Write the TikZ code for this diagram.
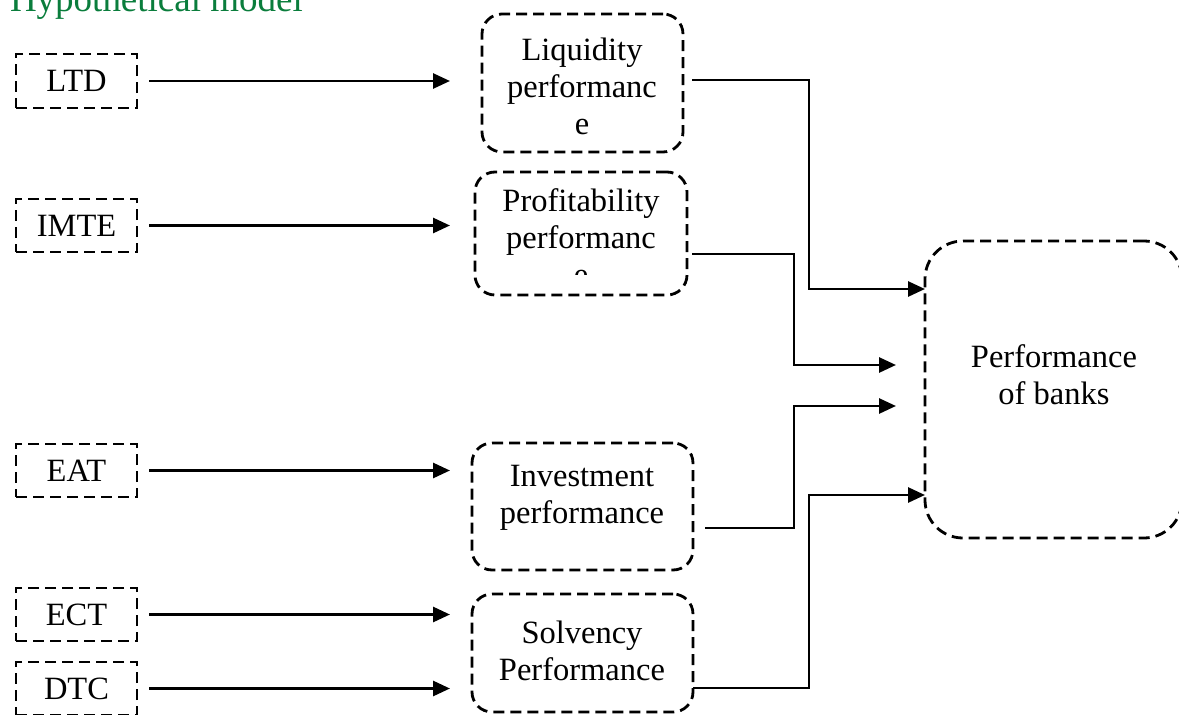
\documentclass[tikz,border=0pt]{standalone}
\usepackage{fontspec}
\setmainfont{Liberation Serif}
\usetikzlibrary{arrows.meta}
\definecolor{titlegreen}{RGB}{10,125,60}
\begin{document}
\begin{tikzpicture}[x=1pt,y=-1pt,
  every node/.style={font=\fontsize{32.5}{37}\selectfont, inner sep=0pt, outer sep=0pt},
  dsh/.style={draw, line width=2.8pt, dash pattern=on 11pt off 6pt},
  varbox/.style={dsh, minimum width=121pt, minimum height=53pt},
  midbox/.style={dsh, rounded corners=20pt},
  txt/.style={align=center},
  arr/.style={line width=2.8pt, -{Triangle[length=17pt,width=15pt]}}
]
\useasboundingbox (0,0) rectangle (1179,715);

% title
\node[anchor=base west, font=\fontsize{37}{40}\selectfont, text=titlegreen] (title) at (10,11) {Hypothetical model};

% left variable boxes
\node[varbox, minimum height=54pt] (ltd) at (76.5,81) {LTD};
\node[varbox] (imte) at (76.5,225.5) {IMTE};
\node[varbox] (eat) at (76.5,470.5) {EAT};
\node[varbox] (ect) at (76.5,614.5) {ECT};
\node[varbox] (dtc) at (76.5,688.5) {DTC};

% middle boxes
\node[midbox, minimum width=201pt, minimum height=138pt] (liq) at (582.5,83) {};
\node[midbox, minimum width=212pt, minimum height=123pt] (prof) at (581,233.5) {};
\node[midbox, minimum width=221pt, minimum height=127pt] (inv) at (582.5,506.5) {};
\node[midbox, minimum width=221pt, minimum height=118pt] (solv) at (582.5,653) {};
\node[dsh, rounded corners=38pt, minimum width=257pt, minimum height=297pt] (bank) at (1053.5,389.5) {};

% texts
\node[txt] (liqT) at (582,86) {Liquidity\\performanc\\e};
\begin{scope}
  \clip (470,170) rectangle (692,274);
  \node[txt] (profT) at (581,237) {Profitability\\performanc\\e};
\end{scope}
\node[txt] (invT) at (582,498) {Investment\\performance};
\node[txt] (solvT) at (582,651) {Solvency\\Performance};
\node[txt] (bankT) at (1054,374.5) {Performance\\of banks};

% left arrows
\draw[arr, shorten <=12pt, shorten >=32pt] (ltd.east) -- (ltd.east -| liq.west);
\draw[arr, shorten <=12pt, shorten >=25pt] (imte.east) -- (imte.east -| prof.west);
\draw[arr, shorten <=12pt, shorten >=22pt] (eat.east) -- (eat.east -| inv.west);
\draw[arr, shorten <=12pt, shorten >=22pt] (ect.east) -- (ect.east -| solv.west);
\draw[arr, shorten <=12pt, shorten >=22pt] (dtc.east) -- (dtc.east -| solv.west);

% right connectors
\coordinate (lo) at (692,80);
\coordinate (po) at (692,254);
\coordinate (io) at (705,528);
\coordinate (so) at (693,688);
\coordinate (b1) at (809,289);
\coordinate (b2) at (794,365);
\coordinate (b3) at (794,406);
\coordinate (b4) at (809,495);

\draw[arr] (lo) -| (b1) -- (bank.west |- b1);
\draw[arr, shorten >=29pt] (po) -| (b2) -- (bank.west |- b2);
\draw[arr, shorten >=29pt] (io) -| (b3) -- (bank.west |- b3);
\draw[arr] (so) -| (b4) -- (bank.west |- b4);
\end{tikzpicture}
\end{document}
